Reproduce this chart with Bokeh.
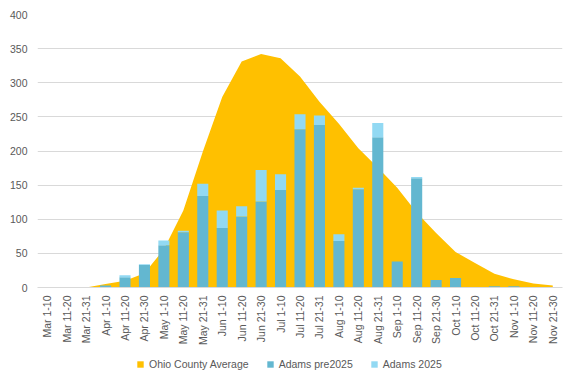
import math
from bokeh.plotting import figure
from bokeh.layouts import column
from bokeh.models import (ColumnDataSource, Range1d, FixedTicker, Legend, LegendItem)
from bokeh.embed import file_html
from bokeh.resources import INLINE

categories = ["Mar 1-10", "Mar 11-20", "Mar 21-31", "Apr 1-10", "Apr 11-20", "Apr 21-30",
              "May 1-10", "May 11-20", "May 21-31", "Jun 1-10", "Jun 11-20", "Jun 21-30",
              "Jul 1-10", "Jul 11-20", "Jul 21-31", "Aug 1-10", "Aug 11-20", "Aug 21-31",
              "Sep 1-10", "Sep 11-20", "Sep 21-30", "Oct 1-10", "Oct 11-20", "Oct 21-31",
              "Nov 1-10", "Nov 11-20", "Nov 21-30"]

ohio_avg = [0, 0, 0, 5, 10, 21, 56, 113, 199, 279, 331, 342, 336, 309, 272, 240, 204,
            176, 146, 110, 80, 52, 36, 20, 12, 6, 3]

adams_pre2025 = [0, 0, 0, 3, 15, 33, 62, 81, 134, 87, 104, 126, 143, 232, 238, 68, 144,
                 220, 38, 160, 11, 14, 0, 2, 2, 0, 0]

adams_2025 = [0, 0, 0, 0, 3, 1, 7, 2, 18, 26, 15, 46, 23, 22, 14, 10, 2,
              21, 0, 2, 0, 0, 0, 0, 0, 0, 0]

y_ticks = [0, 50, 100, 150, 200, 250, 300, 350, 400]

series_names = ["Ohio County Average", "Adams pre2025", "Adams 2025"]
series_colors = ["#FFC000", "#63B7D0", "#92D9F3"]

FONT = "Liberation Sans"
FS = "10.5px"
TXT = "#595959"
GRID = "#D9D9D9"

src = ColumnDataSource(dict(cat=categories, ohio=ohio_avg, pre=adams_pre2025, a25=adams_2025))

# main chart
p = figure(x_range=categories, y_range=Range1d(0, 400),
           width=576, height=354,
           min_border_left=37, min_border_right=14, min_border_top=14, min_border_bottom=67,
           output_backend="svg", toolbar_location=None)

p.varea(x="cat", y1=0, y2="ohio", source=src, fill_color=series_colors[0])
p.vbar_stack(["pre", "a25"], x="cat", width=0.57, source=src,
             fill_color=series_colors[1:], line_color=None)

p.outline_line_color = None
p.background_fill_color = "white"
p.border_fill_color = "white"
p.xgrid.grid_line_color = None
p.ygrid.grid_line_color = GRID
p.ygrid.grid_line_width = 1

p.yaxis.ticker = FixedTicker(ticks=y_ticks)
p.yaxis.axis_line_color = None
p.yaxis.major_tick_line_color = None
p.yaxis.minor_tick_line_color = None
p.yaxis.major_tick_out = 0
p.yaxis.major_label_standoff = 10
p.yaxis.major_label_text_font = FONT
p.yaxis.major_label_text_font_size = FS
p.yaxis.major_label_text_color = TXT

p.xaxis.axis_line_color = GRID
p.xaxis.major_tick_line_color = None
p.xaxis.minor_tick_line_color = None
p.xaxis.major_tick_out = 0
p.xaxis.major_label_standoff = 8
p.xaxis.major_label_orientation = math.pi / 2
p.xaxis.major_label_text_font = FONT
p.xaxis.major_label_text_font_size = FS
p.xaxis.major_label_text_color = TXT

# legend strip below the chart (swatch renderers sit outside its visible range)
lg = figure(width=576, height=30, x_range=Range1d(0, 1), y_range=Range1d(0, 1),
            min_border=0, output_backend="svg", toolbar_location=None)
lg.axis.visible = False
lg.grid.grid_line_color = None
lg.outline_line_color = None
lg.background_fill_color = "white"
lg.border_fill_color = "white"
swatch_src = ColumnDataSource(dict(x=[-3, -2], y1=[-3, -3], y2=[-2, -2]))
swatches = [lg.varea(x="x", y1="y1", y2="y2", source=swatch_src, fill_color=c)
            for c in series_colors]

legend = Legend(items=[LegendItem(label=n, renderers=[r]) for n, r in zip(series_names, swatches)],
                orientation="horizontal", location=(99, 13),
                glyph_width=8, glyph_height=8, label_height=14, label_standoff=5, spacing=17,
                padding=0, margin=0, border_line_color=None, background_fill_alpha=0,
                label_text_font=FONT, label_text_font_size=FS, label_text_color=TXT)
lg.add_layout(legend, "center")

layout = column(p, lg, spacing=0)

open("out.html", "w").write(file_html(layout, INLINE))
